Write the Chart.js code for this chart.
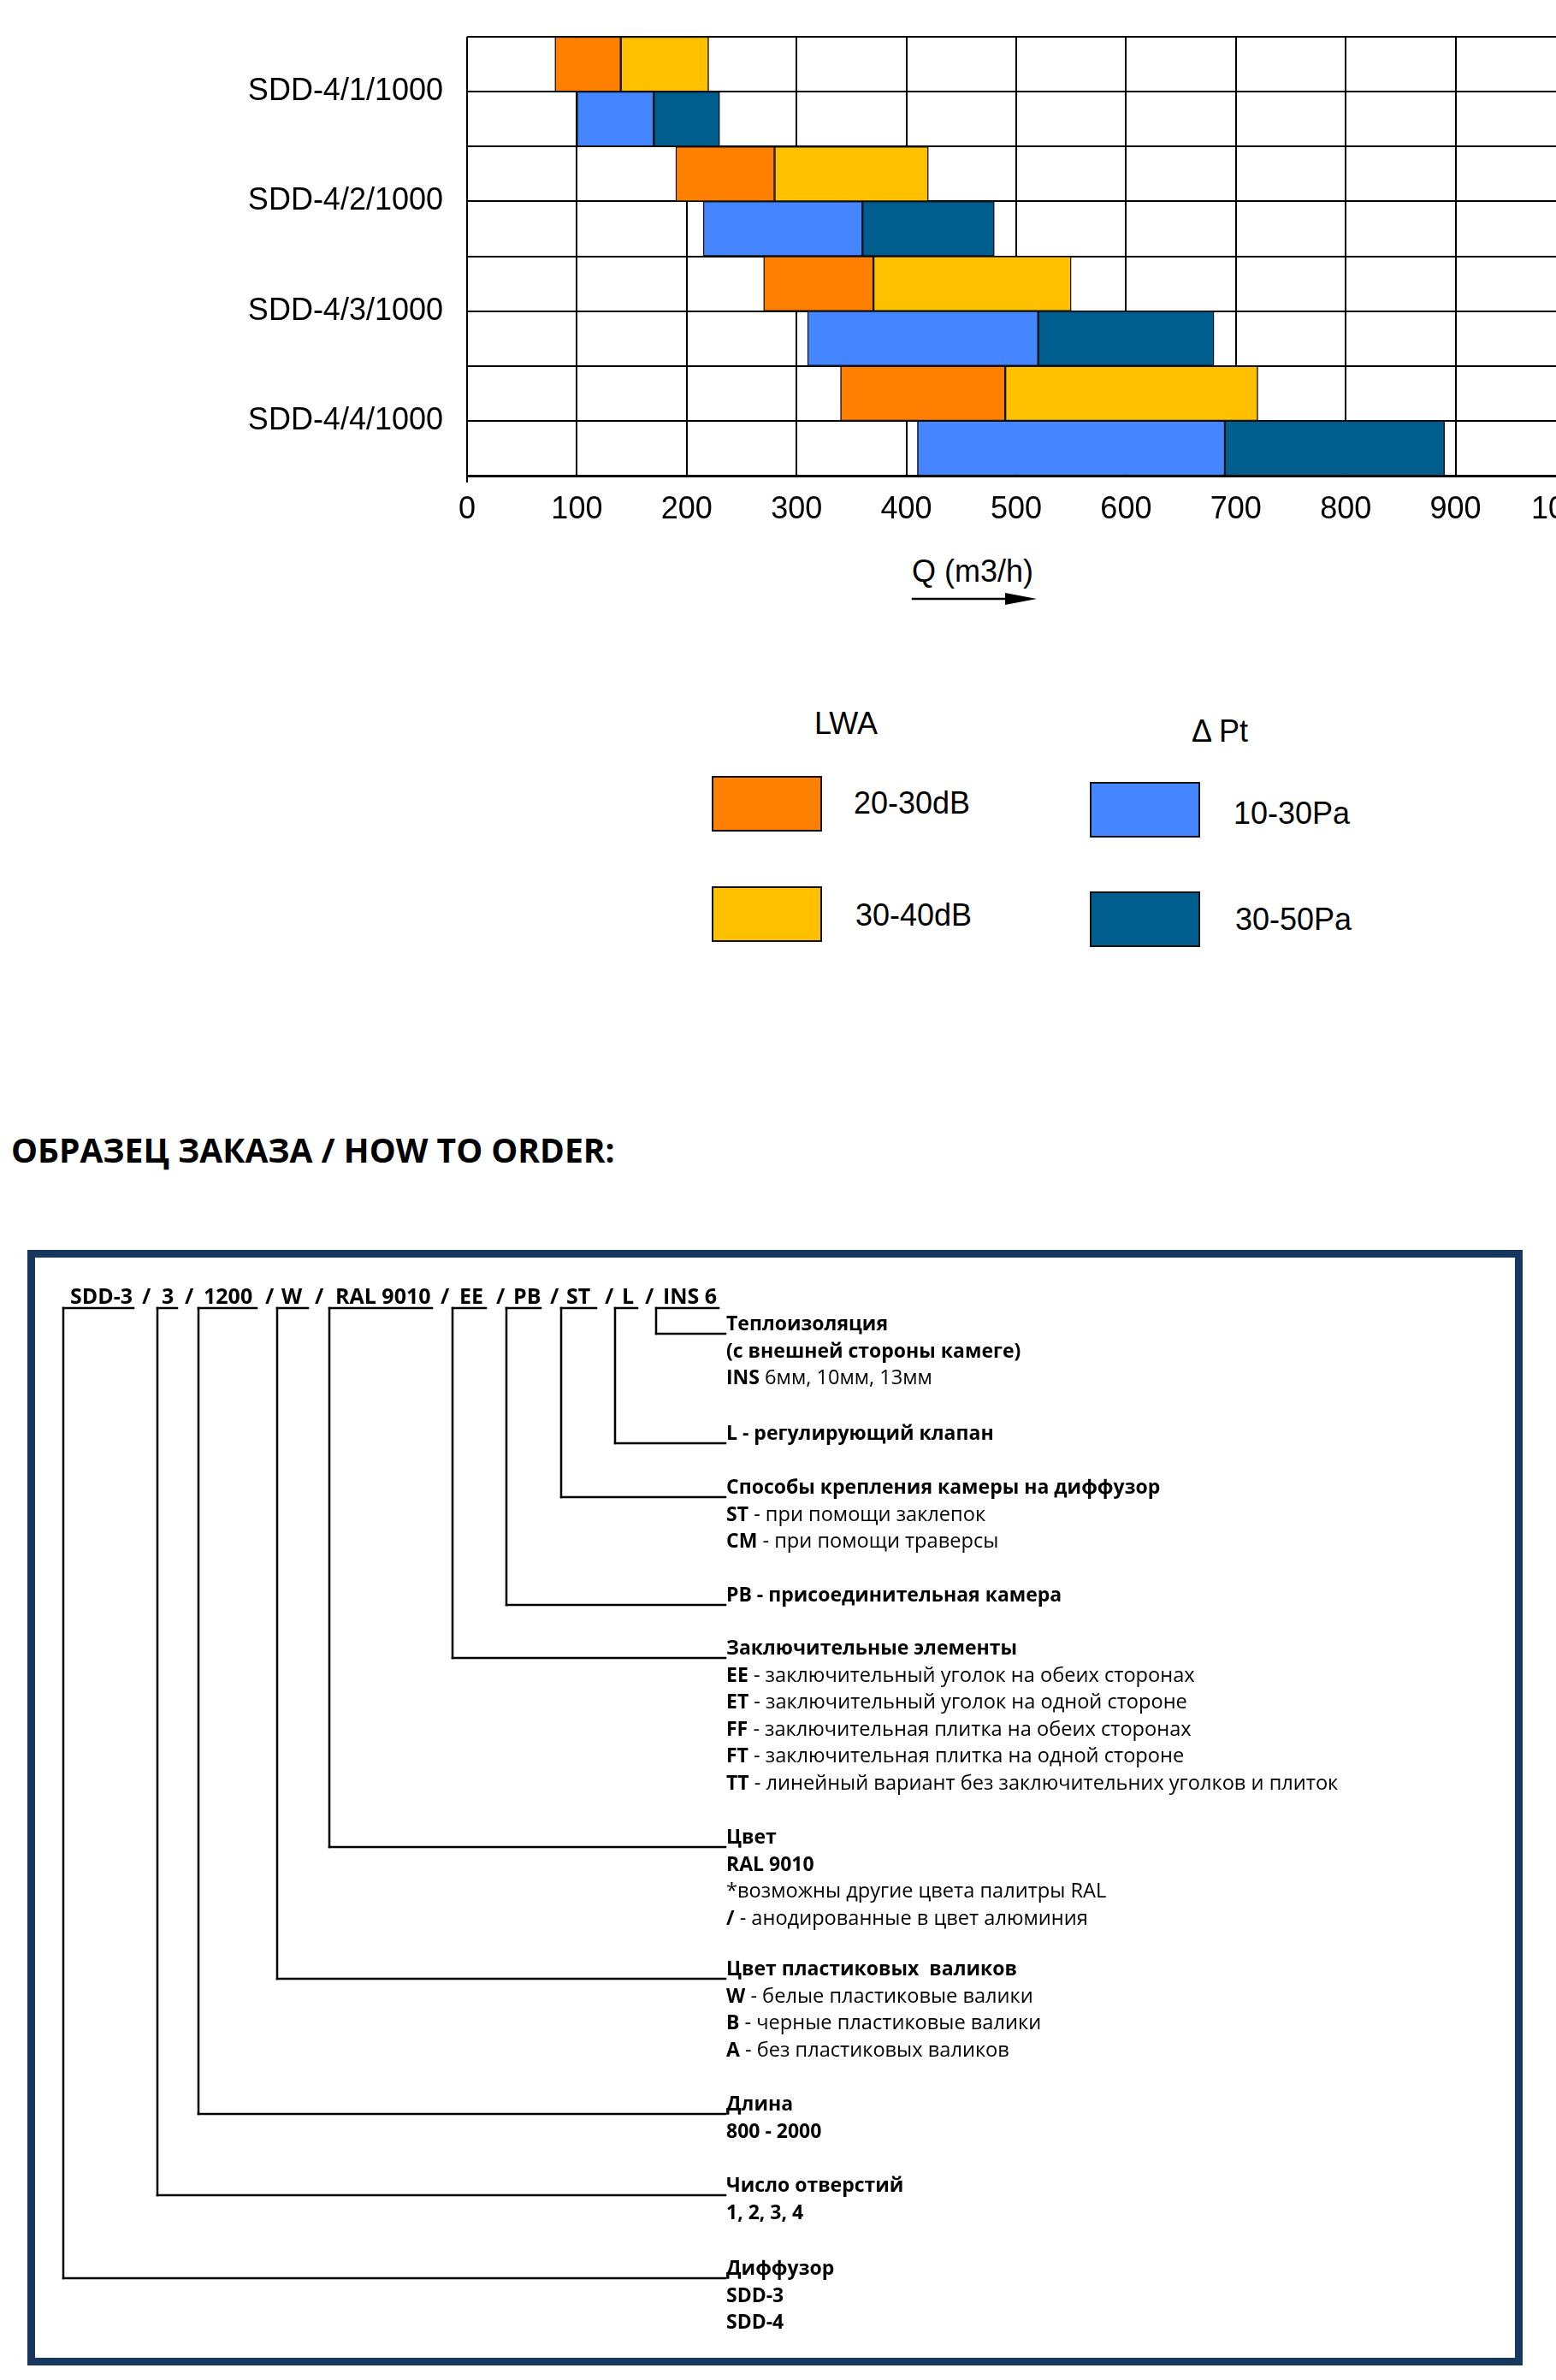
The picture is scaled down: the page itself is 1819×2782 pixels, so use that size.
<!DOCTYPE html>
<html lang="ru">
<head>
<meta charset="utf-8">
<title>SDD-4 - Q (m3/h)</title>
<script src="https://cdn.jsdelivr.net/npm/chart.js@4.4.1/dist/chart.umd.min.js"></script>
<style>
  html, body { margin: 0; padding: 0; background: #fff; overflow: hidden; }
  body { position: relative; width: 1819px; height: 2782px; color: #000; font-family: "Liberation Sans", Arial, sans-serif; }
  .abs { position: absolute; white-space: pre; }
  .arial { font-family: "Liberation Sans", Arial, sans-serif; font-size: 36px; line-height: 40px; height: 40px; }
  .os { font-family: "Open Sans", sans-serif; font-size: 23.6px; line-height: 30px; height: 30px; font-weight: 400; }
  .os b { font-weight: 700; font-size: 23px; }
  .code { font-family: "Open Sans", sans-serif; font-size: 25px; line-height: 30px; height: 30px; font-weight: 700; }
  .sw { position: absolute; box-sizing: border-box; width: 129px; height: 65px; border: 2px solid #111; }
  #chartBox { position: absolute; left: 0; top: 0; }
  #orderBox { position: absolute; left: 32px; top: 1461px; width: 1748px; height: 1304px; box-sizing: border-box; border: 9px solid #17375e; }
  #lines { position: absolute; left: 0; top: 0; }
  #heading { font-family: "Open Sans", sans-serif; font-weight: 700; font-size: 39px; line-height: 44px; left: 13px; top: 1322px; }
</style>
</head>
<body>

<div id="chartBox"><canvas id="myChart" width="1900" height="620"></canvas></div>
<div id="legend"></div>

<div class="abs" id="heading">ОБРАЗЕЦ ЗАКАЗА / HOW TO ORDER:</div>
<div id="orderBox"></div>
<svg id="lines" width="1819" height="2782"></svg>
<div id="order"></div>

<script>
// Q (m3/h) ranges per size, [from, to]
const categories = ["SDD-4/1/1000", "SDD-4/2/1000", "SDD-4/3/1000", "SDD-4/4/1000"];
const lwa2030 = [[80, 140], [190, 280], [270, 370], [340, 490]];
const lwa3040 = [[140, 220], [280, 420], [370, 550], [490, 720]];
const pt1030 = [[100, 170], [215, 360], [310, 520], [410, 690]];
const pt3050 = [[170, 230], [360, 480], [520, 680], [690, 890]];

const seriesNames = ["20-30dB", "30-40dB", "10-30Pa", "30-50Pa"];
const seriesGroup = ["LWA", "LWA", "\u0394 Pt", "\u0394 Pt"];
const seriesColors = ["#ff8000", "#ffc000", "#4585ff", "#005e8e"];
const series = [lwa2030, lwa3040, pt1030, pt3050];

const xMin = 0, xMax = 1000, xStep = 100;
const xTitle = "Q (m3/h)";

const FONT = '"Liberation Sans", Arial, sans-serif';
Chart.defaults.font.family = FONT;
Chart.defaults.color = "#000";

// one grid row per group inside each size
const rowSlots = categories.flatMap(c => [c + " LWA", c + " Pt"]);

new Chart("myChart", {
  type: "bar",
  data: {
    labels: categories,
    datasets: series.map((d, i) => ({
      label: seriesNames[i],
      data: d,
      stack: seriesGroup[i],
      backgroundColor: seriesColors[i],
      borderColor: "#111",
      borderWidth: 1.5,
      borderSkipped: false,
      categoryPercentage: 1,
      barPercentage: 1
    }))
  },
  options: {
    indexAxis: "y",
    responsive: false,
    animation: false,
    layout: { padding: { top: 43, right: 70, left: 0, bottom: 0 } },
    plugins: { legend: { display: false }, tooltip: { enabled: false } },
    scales: {
      x: {
        type: "linear",
        min: xMin,
        max: xMax,
        stacked: false,
        ticks: { stepSize: xStep, font: { size: 36 }, padding: 10, maxRotation: 0, autoSkip: false, callback: v => String(v) },
        grid: {
          color: "#000",
          lineWidth: 2,
          tickLength: 8,
          tickColor: ctx => ctx.index === 0 ? "#000" : "rgba(0,0,0,0)"
        },
        border: { display: true, color: "#000", width: 3 },
        afterFit: s => { s.height = 64; }
      },
      y: {
        type: "category",
        offset: true,
        grid: { display: false },
        border: { display: false },
        ticks: { font: { size: 36 }, padding: 20 },
        afterFit: s => { s.width = 546; s.paddingTop = 0; s.paddingBottom = 0; }
      },
      rows: {
        type: "category",
        position: "left",
        labels: rowSlots,
        offset: true,
        grid: { offset: true, color: "#000", lineWidth: 2, drawTicks: false },
        ticks: { display: false },
        border: { display: false }
      }
    }
  }
});

// axis title and arrow below the chart
const legend = document.getElementById("legend");
function addText(parent, cls, text, x, y, h) {
  const d = document.createElement("div");
  d.className = "abs " + cls;
  d.style.left = x + "px";
  d.style.top = (y - h / 2) + "px";
  d.textContent = text;
  parent.appendChild(d);
  return d;
}
addText(legend, "arial", xTitle, 1066, 668, 40);

// legend: two groups with heading
const groupHead = { "LWA": [952, 846], "\u0394 Pt": [1393, 855] };
const swatchPos = [[832, 907], [832, 1036], [1274, 914], [1274, 1042]];
const labelPos = [[998, 939], [1000, 1070], [1442, 951], [1444, 1075]];
Object.keys(groupHead).forEach(g => addText(legend, "arial", g, groupHead[g][0], groupHead[g][1], 40));
seriesNames.forEach((name, i) => {
  const s = document.createElement("div");
  s.className = "sw";
  s.style.left = swatchPos[i][0] + "px";
  s.style.top = swatchPos[i][1] + "px";
  s.style.background = seriesColors[i];
  legend.appendChild(s);
  addText(legend, "arial", name, labelPos[i][0], labelPos[i][1], 40);
});

// how to order
const codeParts = ["SDD-3", "3", "1200", "W", "RAL 9010", "EE", "PB", "ST", "L", "INS 6"];
const codeX = [82, 189, 238, 329, 392, 537, 600, 662, 727, 775];
const slashX = [166, 216, 310, 368, 515, 580, 643, 707, 754];
const branchX = [74, 184, 232, 324, 385, 529, 592, 656, 719, 767];
const underEnd = [156, 207, 300, 360, 505, 568, 632, 697, 745, 840];
const branchY = [2663, 2566, 2471, 2313, 2159, 1938, 1876, 1750, 1687, 1559];
const descriptions = [
  [["Диффузор"], ["SDD-3"], ["SDD-4"]],
  [["Число отверстий"], ["1, 2, 3, 4"]],
  [["Длина"], ["800 - 2000"]],
  [["Цвет пластиковых  валиков"], ["W", " - белые пластиковые валики"], ["B", " - черные пластиковые валики"], ["A", " - без пластиковых валиков"]],
  [["Цвет"], ["RAL 9010"], ["", "*возможны другие цвета палитры RAL"], ["/", " - анодированные в цвет алюминия"]],
  [["Заключительные элементы"], ["EE", " - заключительный уголок на обеих сторонах"], ["ET", " - заключительный уголок на одной стороне"], ["FF", " - заключительная плитка на обеих сторонах"], ["FT", " - заключительная плитка на одной стороне"], ["TT", " - линейный вариант без заключительних уголков и плиток"]],
  [["PB - присоединительная камера"]],
  [["Способы крепления камеры на диффузор"], ["ST", " - при помощи заклепок"], ["CM", " - при помощи траверсы"]],
  [["L - регулирующий клапан"]],
  [["Теплоизоляция"], ["(с внешней стороны камеге)"], ["INS", " 6мм, 10мм, 13мм"]]
];

const order = document.getElementById("order");
const codeY = 1514, underY = 1529, textX = 849;
codeParts.forEach((c, i) => addText(order, "code", c, codeX[i], codeY, 30));
slashX.forEach(x => addText(order, "code", "/", x, codeY, 30));

let svg = "";
const ln = (x1, y1, x2, y2) => `<line x1="${x1}" y1="${y1}" x2="${x2}" y2="${y2}" stroke="#000" stroke-width="2.5" stroke-linecap="square"/>`;
branchX.forEach((x, i) => {
  svg += ln(x, underY, underEnd[i], underY);
  svg += ln(x, underY, x, branchY[i]);
  svg += ln(x, branchY[i], 848, branchY[i]);
  descriptions[i].forEach((line, k) => {
    const d = addText(order, "os", "", textX, branchY[i] - 13 + k * 31.5, 30);
    const b = document.createElement("b");
    b.textContent = line[0];
    d.appendChild(b);
    if (line[1]) d.appendChild(document.createTextNode(line[1]));
  });
});
// flow arrow under Q (m3/h)
svg += ln(1067, 700, 1180, 700);
svg += `<polygon points="1175,693 1212,700 1175,707" fill="#000"/>`;
document.getElementById("lines").innerHTML = svg;
</script>
</body>
</html>
